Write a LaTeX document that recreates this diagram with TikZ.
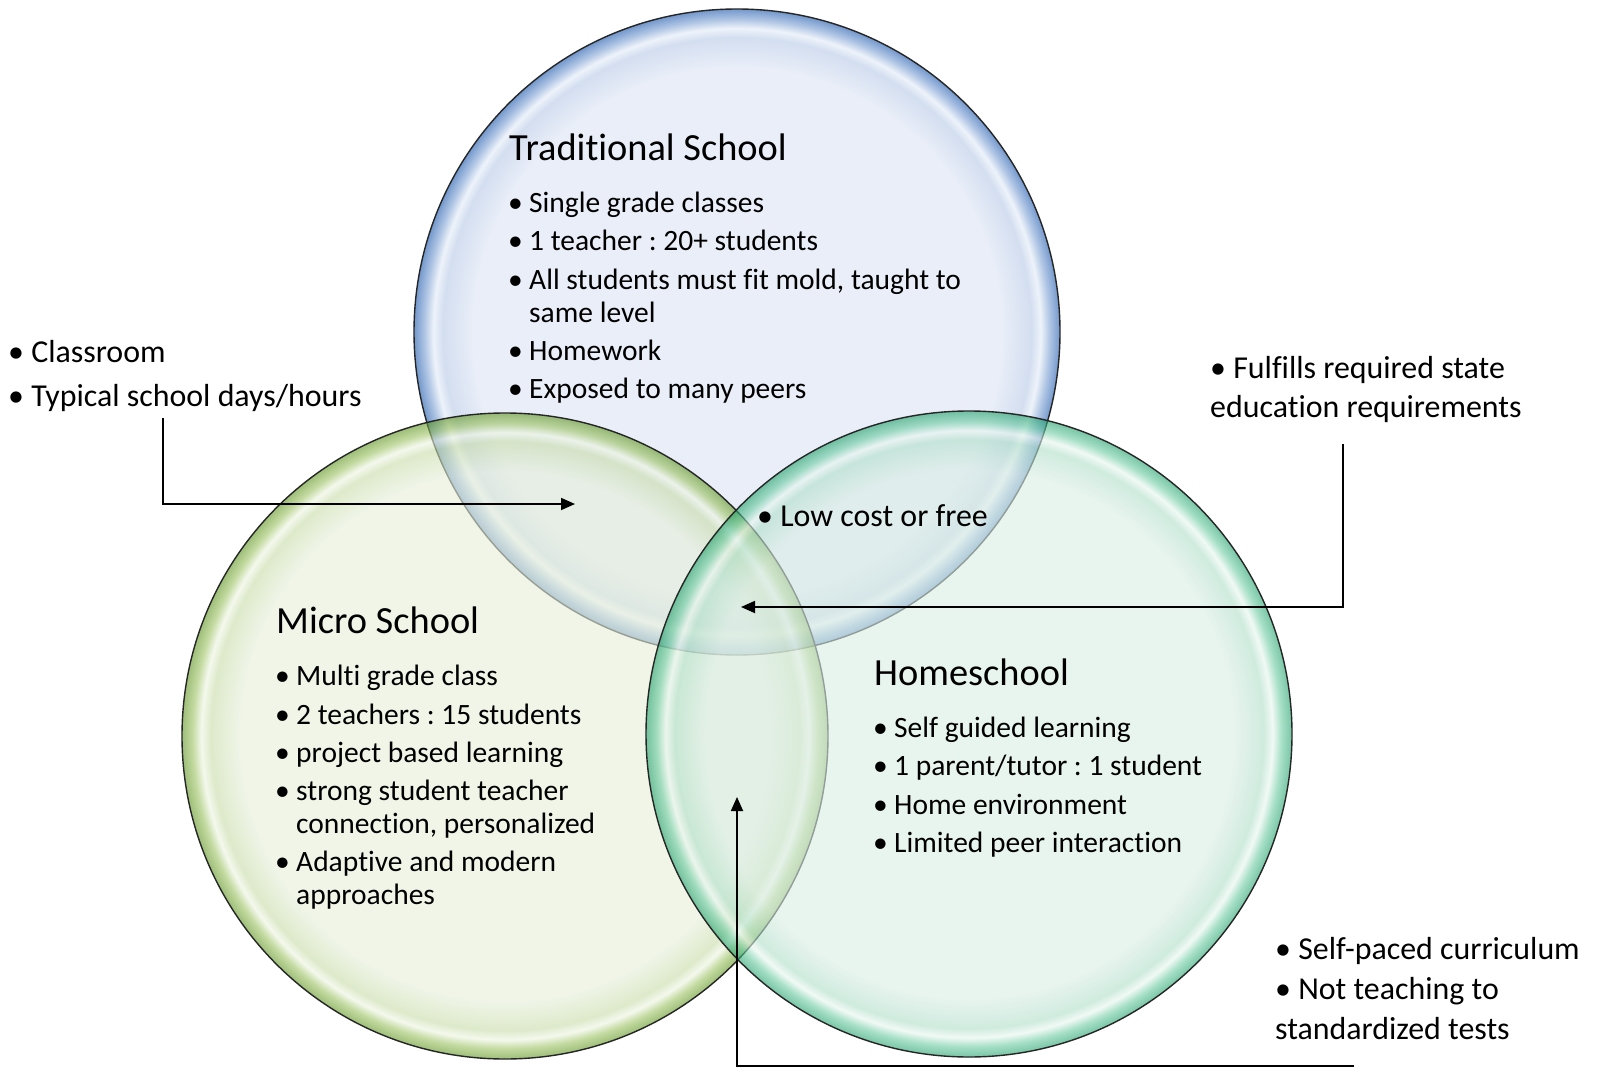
\documentclass[tikz,border=0pt]{standalone}
\usepackage{fontspec}
\setmainfont{Carlito}[Ligatures=NoCommon]
\frenchspacing
\usetikzlibrary{arrows.meta}
% top (blue) circle, opaque
\definecolor{tA}{HTML}{E9EEF8}
\definecolor{tB}{HTML}{D3DEF0}
\definecolor{tW}{HTML}{EEF3FA}
\definecolor{tC}{HTML}{AFC5E4}
\definecolor{tD}{HTML}{7398CC}
% left (green) circle, drawn with opacity 0.6
\definecolor{gA}{HTML}{E6EFDA}
\definecolor{gB}{HTML}{C8DCA8}
\definecolor{gW}{HTML}{EEF5E2}
\definecolor{gC}{HTML}{9CC262}
\definecolor{gD}{HTML}{5E9420}
% right (teal) circle, drawn with opacity 0.6
\definecolor{hA}{HTML}{D9EDE4}
\definecolor{hB}{HTML}{B0DFC9}
\definecolor{hW}{HTML}{E8F6EF}
\definecolor{hC}{HTML}{6CCBA2}
\definecolor{hD}{HTML}{1FA06A}
\pgfdeclareradialshading{tradshade}{\pgfpoint{0bp}{0bp}}{color(0bp)=(tA); color(20.5bp)=(tA); color(22.8bp)=(tB); color(23.5bp)=(tW); color(24.2bp)=(tC); color(25bp)=(tD); color(50bp)=(tD)}
\pgfdeclareradialshading{microshade}{\pgfpoint{0bp}{0bp}}{color(0bp)=(gA); color(20.5bp)=(gA); color(22.8bp)=(gB); color(23.5bp)=(gW); color(24.2bp)=(gC); color(25bp)=(gD); color(50bp)=(gD)}
\pgfdeclareradialshading{homeshade}{\pgfpoint{0bp}{0bp}}{color(0bp)=(hA); color(20.5bp)=(hA); color(22.8bp)=(hB); color(23.5bp)=(hW); color(24.2bp)=(hC); color(25bp)=(hD); color(50bp)=(hD)}
\newcommand{\bu}{\makebox[21pt][l]{•}}
\newcommand{\hin}{\hspace*{21pt}}
\tikzset{
  bubble/.style={circle, minimum size=646pt, inner sep=0pt},
  bubbleline/.style={draw=black!85, line width=1.4pt},
  ttl/.style={anchor=base west, inner sep=0pt, font=\fontsize{38.4}{46}\selectfont},
  inlist/.style={anchor=base west, inner sep=0pt, align=left, font=\fontsize{29.5}{32.8}\selectfont},
  outlist/.style={anchor=base west, inner sep=0pt, align=left, font=\fontsize{31.9}{39.5}\selectfont},
  conn/.style={line width=1.8pt, -{Triangle[length=14pt,width=12pt]}}
}
\begin{document}
\begin{tikzpicture}[x=1pt,y=-1pt]
\useasboundingbox[fill=white] (0,0) rectangle (1600,1083);
% circles
\node[bubble, shading=tradshade] (trad) at (737,332) {};
\draw[bubbleline] (trad.center) circle (323);
\node[bubble, shading=microshade, fill opacity=0.6] (micro) at (505,736) {};
\draw[bubbleline] (micro.center) circle (323);
\node[bubble, shading=homeshade, fill opacity=0.6] (home) at (969,734) {};
\draw[bubbleline] (home.center) circle (323);
% titles
\node[ttl] (tradtitle) at (509,161) {Traditional School};
\node[ttl] (microtitle) at (276,633) {Micro School};
\node[ttl] (hometitle) at (874,685.5) {Homeschool};
% lists inside circles (anchored at the baseline of their last line)
\node[inlist] (tradlist) at (508,398.6) {\bu Single grade classes\\[5.5pt]
  \bu 1 teacher : 20+ students\\[5.5pt]
  \bu All students must fit mold, taught to\\
  \hin same level\\[5.5pt]
  \bu Homework\\[5.5pt]
  \bu Exposed to many peers};
\node[inlist] (microlist) at (275,904.5) {\bu Multi grade class\\[5.5pt]
  \bu 2 teachers : 15 students\\[5.5pt]
  \bu project based learning\\[5.5pt]
  \bu strong student teacher\\
  \hin connection, personalized\\[5.5pt]
  \bu Adaptive and modern\\
  \hin approaches};
\node[inlist] (homelist) at (873,852.4) {\bu Self guided learning\\[5.5pt]
  \bu 1 parent/tutor : 1 student\\[5.5pt]
  \bu Home environment\\[5.5pt]
  \bu Limited peer interaction};
\node[outlist] (lowcost) at (757,526) {• Low cost or free};
% outside labels
\node[outlist] (leftlbl) at (8,406) {• Classroom\\[4.5pt] • Typical school days/hours};
\node[outlist] (rightlbl) at (1210,417.5) {• Fulfills required state\\ education requirements};
\node[outlist] (botlbl) at (1275,1039) {• Self-paced curriculum\\[1pt] • Not teaching to\\ standardized tests};
% connectors
\coordinate (lstart) at (163,418);
\coordinate (lend) at (575,504);
\coordinate (rstart) at (1343,444);
\coordinate (rend) at (741,607);
\coordinate (bstart) at (1354,1066);
\coordinate (bend) at (737,797);
\draw[conn] (lstart) |- (lend);
\draw[conn] (rstart) |- (rend);
\draw[conn] (bstart) -| (bend);
\end{tikzpicture}
\end{document}
